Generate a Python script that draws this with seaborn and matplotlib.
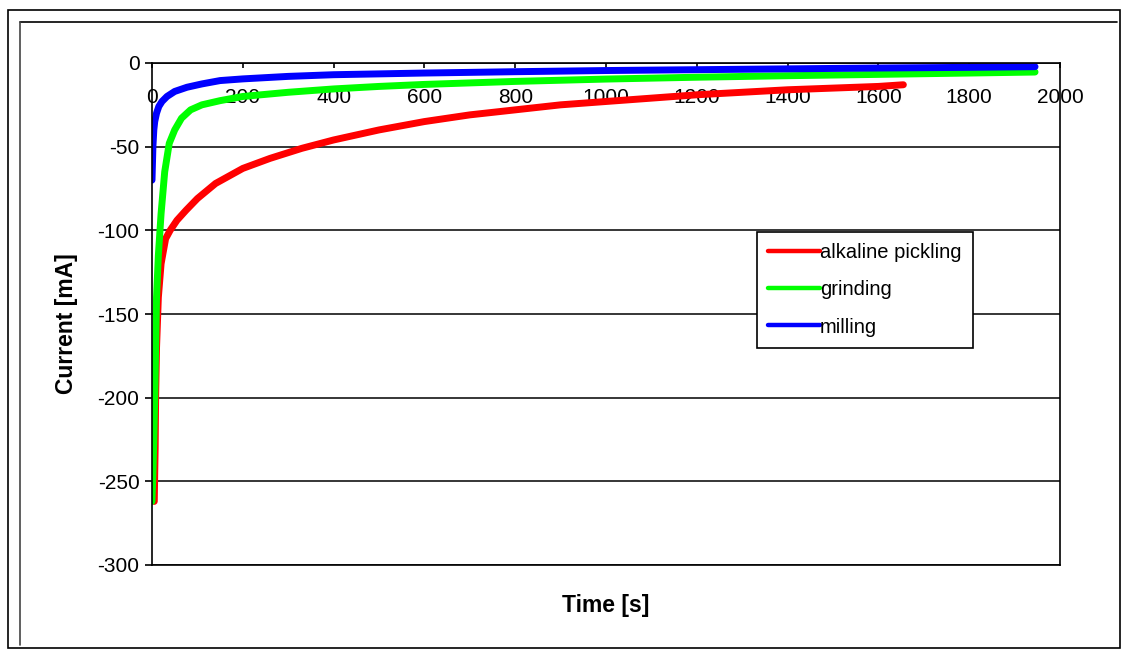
import numpy as np
import pandas as pd
import matplotlib
matplotlib.use("Agg")
import matplotlib.pyplot as plt
from matplotlib.lines import Line2D
from matplotlib import font_manager
import seaborn as sns

# ---- data ----
series_names = ["alkaline pickling", "grinding", "milling"]

red_t = [5, 6, 7, 8, 10, 14, 20, 30, 40, 55, 75, 100, 140, 200, 260, 330, 400, 500,
         600, 700, 800, 900, 1000, 1100, 1200, 1300, 1400, 1500, 1600, 1655]
red_i = [-262, -245, -230, -200, -170, -140, -120, -105, -100, -94, -88, -81, -72, -63,
         -57, -51, -46, -40, -35, -31, -28, -25, -23, -21, -19, -17.5, -16, -15, -14, -13]

green_t = [0, 2, 4, 6, 8, 10, 14, 20, 28, 38, 50, 65, 85, 110, 150, 200, 300, 400, 500,
           600, 800, 1000, 1200, 1400, 1600, 1800, 1945]
green_i = [-262, -245, -225, -200, -170, -140, -115, -90, -65, -48, -40, -33, -28, -25,
           -22.5, -20, -17.5, -15.5, -14, -12.8, -11, -9.6, -8.5, -7.6, -6.8, -6, -5.4]

blue_t = [0, 1, 2, 4, 6, 10, 15, 22, 33, 50, 77, 110, 150, 200, 300, 400, 600, 800,
          1000, 1200, 1400, 1600, 1800, 1945]
blue_i = [-70, -60, -50, -40, -35, -30, -26, -23, -20, -17, -14.5, -12.5, -10.5, -9.5,
          -8, -7, -6, -5.2, -4.5, -4, -3.5, -3, -2.6, -2.2]

x_ticks = [0, 200, 400, 600, 800, 1000, 1200, 1400, 1600, 1800, 2000]
y_ticks = [-300, -250, -200, -150, -100, -50, 0]
colors = ["#FF0000", "#00FF00", "#0000FF"]

df = pd.concat([
    pd.DataFrame({"Time": red_t, "Current": red_i, "series": series_names[0]}),
    pd.DataFrame({"Time": green_t, "Current": green_i, "series": series_names[1]}),
    pd.DataFrame({"Time": blue_t, "Current": blue_i, "series": series_names[2]}),
], ignore_index=True)

sns.set_style("white")
plt.rcParams["font.family"] = ["Liberation Sans", "DejaVu Sans"]
plt.rcParams["text.color"] = "black"
plt.rcParams["axes.labelcolor"] = "black"

# find the regular-width bold Liberation Sans file
bold_file = None
for fe in font_manager.fontManager.ttflist:
    if (fe.name == "Liberation Sans" and fe.weight in (700, "bold")
            and fe.style == "normal" and "narrow" not in fe.fname.lower()):
        bold_file = fe.fname
        break
if bold_file:
    bold_fp = font_manager.FontProperties(fname=bold_file, size=16.5)
else:
    bold_fp = font_manager.FontProperties(family="Arial", weight="bold", size=16.5)

W, H = 1125, 651
fig = plt.figure(figsize=(W / 100, H / 100), dpi=100)
ax = fig.add_axes([152 / W, 1 - 565 / H, (1060 - 152) / W, (565 - 63) / H])

sns.lineplot(data=df, x="Time", y="Current", hue="series", hue_order=series_names,
             palette=colors, linewidth=5, estimator=None, sort=False, ax=ax,
             legend=True)

ax.set_xlim(0, 2000)
ax.set_ylim(-300, 0)
ax.set_xticks(x_ticks)
ax.set_yticks(y_ticks)
ax.set_xticklabels([str(v) for v in x_ticks])
ax.set_yticklabels([str(v) for v in y_ticks])

ax.yaxis.grid(True, color="black", linewidth=1.1)
ax.xaxis.grid(False)
ax.set_axisbelow(True)
for s in ax.spines.values():
    s.set_color("black")
    s.set_linewidth(1.2)
    s.set_visible(True)

ax.tick_params(axis="x", top=True, bottom=False, labeltop=True, labelbottom=False,
               direction="in", length=3.8, width=1.2, color="black", pad=-31.5,
               labelsize=15, labelcolor="black")
ax.tick_params(axis="y", left=True, right=False, direction="out", length=5, width=1.2,
               color="black", pad=4, labelsize=15, labelcolor="black")

ax.set_xlabel("Time [s]", fontproperties=bold_fp, color="black")
ax.set_ylabel("Current [mA]", fontproperties=bold_fp, color="black")
ax.xaxis.set_label_position("bottom")
ax.xaxis.set_label_coords(0.5, -0.058)
ax.yaxis.set_label_coords(-0.081, 0.48)

handles = [Line2D([0], [0], color=c, linewidth=3.2) for c in colors]
leg = ax.legend(handles, series_names, loc="upper left", bbox_to_anchor=(0.666, 0.663),
                frameon=True, fancybox=False, framealpha=1, edgecolor="black",
                fontsize=14.5, handlelength=2.6, handletextpad=0.0, borderpad=0.55,
                labelspacing=0.9, borderaxespad=0, labelcolor="black")
leg.get_frame().set_linewidth(1.2)

# figure borders (chart area)
fig.add_artist(plt.Rectangle((8 / W, 1 - 648 / H), 1112 / W, 638 / H, transform=fig.transFigure,
                             fill=False, edgecolor="black", linewidth=1.2))
fig.add_artist(Line2D([20 / W, 1117 / W], [1 - 22 / H, 1 - 22 / H], transform=fig.transFigure,
                      color="black", linewidth=1.2))
fig.add_artist(Line2D([20 / W, 20 / W], [1 - 22 / H, 1 - 645 / H], transform=fig.transFigure,
                      color="#444444", linewidth=1.2))

fig.savefig("out.png", dpi=100)
